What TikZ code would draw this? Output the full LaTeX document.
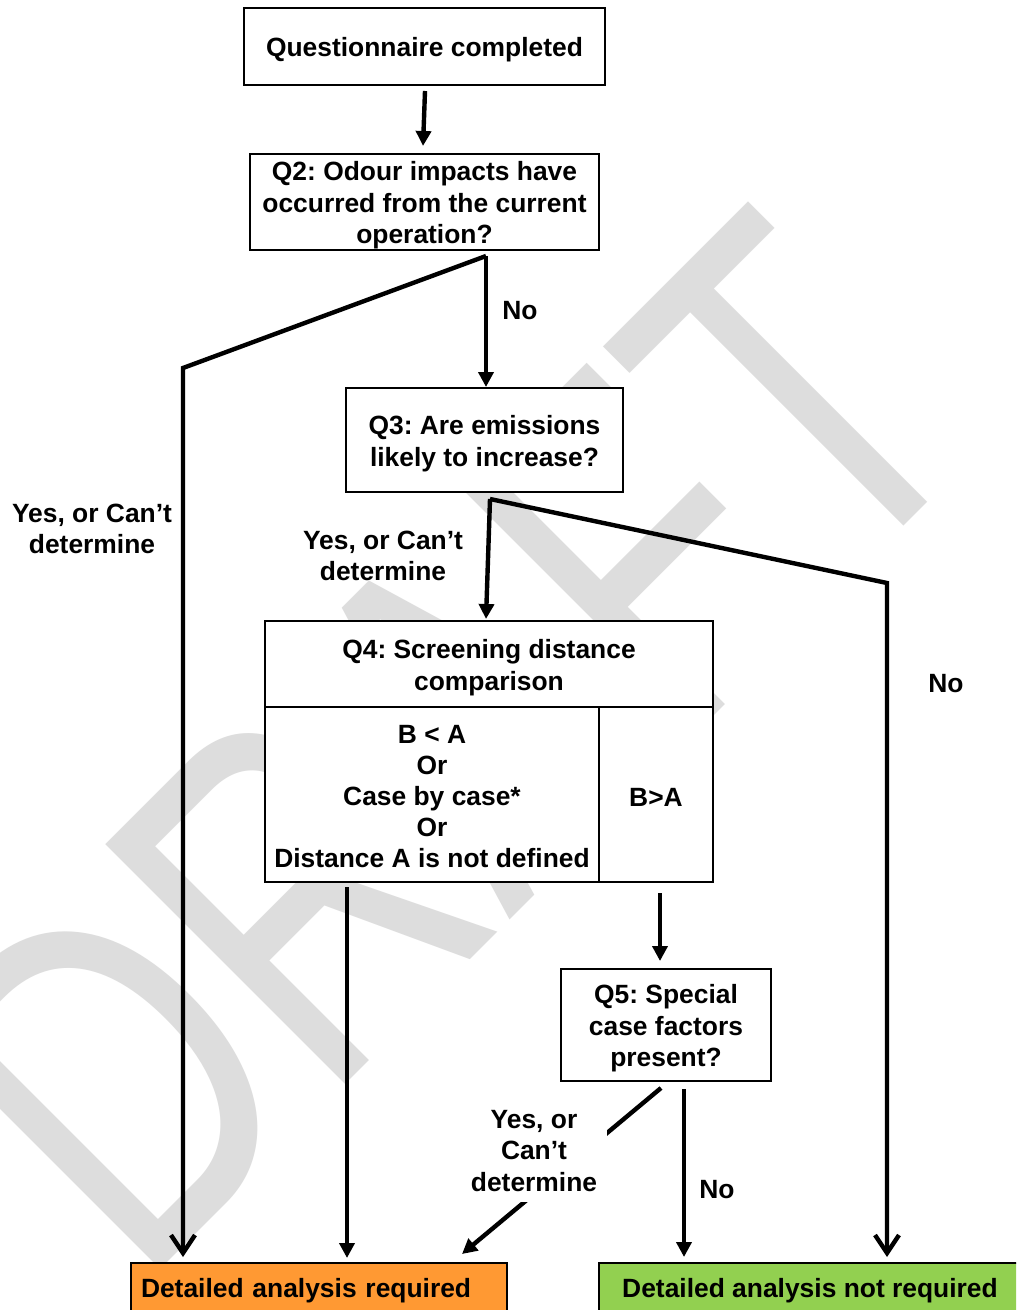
\documentclass[tikz,border=0pt]{standalone}
\usepackage{graphicx}
\usepackage{fontspec}
\setmainfont{Liberation Sans}
\newfontfamily\wmfont{Liberation Sans}
\frenchspacing
\usetikzlibrary{arrows.meta,calc}
\definecolor{wmgray}{RGB}{221,221,221}
\definecolor{orangebox}{RGB}{255,153,51}
\definecolor{greenbox}{RGB}{146,208,80}
\newcommand{\topstrut}[1]{\rule{0pt}{#1}}
\begin{document}
\begin{tikzpicture}[x=0.5pt,y=-0.5pt,
  txt/.style={font=\fontsize{13.2pt}{15.7pt}\selectfont\bfseries, align=center, inner sep=0pt},
  box/.style={txt, draw, line width=1pt, fill=white},
  conn/.style={line width=2.2pt, line join=miter},
  tri/.style={conn, -{Triangle[length=7.5pt,width=7.5pt]}},
  barb/.style={conn, -{Straight Barb[length=9pt,width=12pt]}},
]
\useasboundingbox (0,0) rectangle (1016,1310);
\fill[white] (0,0) rectangle (1016,1310);
\clip (0,0) rectangle (1016,1310);
% watermark
\node[anchor=base west, rotate=45, inner sep=0pt, text=wmgray,
      font=\wmfont\fontsize{246.5pt}{250pt}\selectfont] (wm) at (139,1291)
      {\scalebox{0.736}[1]{DRAFT}};
% boxes
\node[box, minimum width=180.5pt, minimum height=38.5pt] (q1) at (424.5,46.5) {\topstrut{13.1pt}Questionnaire completed};
\node[box, minimum width=174.5pt, minimum height=48pt] (q2) at (424.5,202) {\topstrut{13.1pt}Q2: Odour impacts have\\occurred from the current\\operation?};
\node[box, minimum width=138.5pt, minimum height=52pt] (q3) at (484.5,440) {\topstrut{13.1pt}Q3: Are emissions\\likely to increase?};
\node[box, minimum width=224pt, minimum height=43pt] (q4h) at (489,664) {\topstrut{13.1pt}Q4: Screening distance\\comparison};
\node[box, font=\fontsize{13.2pt}{15.4pt}\selectfont\bfseries, minimum width=167pt, minimum height=87.5pt] (q4l) at (432,794.5) {\topstrut{11.1pt}B < A\\Or\\Case by case*\\Or\\Distance A is not defined};
\node[box, minimum width=57pt, minimum height=87.5pt] (q4r) at (656,794.5) {\topstrut{11.6pt}B>A};
\node[box, minimum width=105pt, minimum height=56pt] (q5) at (666,1025) {\topstrut{13.1pt}Q5: Special\\case factors\\present?};
\node[box, fill=orangebox, anchor=north west, text width=178pt, align=left, inner xsep=5pt, minimum height=28pt] (req) at (130,1262) {Detailed analysis required};
\node[box, fill=greenbox, anchor=north west, minimum width=211pt, minimum height=28pt] (notreq) at (598,1262) {Detailed analysis not required};
% connectors
\coordinate (q2o) at ($(q2.south)+(61.5,5)$);
\coordinate (q2bend) at (183,368);
\draw[tri] ($(q1.south)+(0.5,5)$) -- ($(q2.north)+(-1.5,-7)$);
\draw[tri] (q2o) -- (q2o |- q3.north);
\draw[barb, shorten >=2.5pt] (q2o) -- (q2bend) -- (q2bend |- req.north);
\coordinate (q3o) at ($(q3.south)+(5.5,6)$);
\coordinate (q3bend) at (887,583);
\draw[tri] (q3o) -- ($(q4h.north)+(-3,-1)$);
\draw[barb, shorten >=2.5pt] (q3o) -- (q3bend) -- (q3bend |- notreq.north);
\coordinate (q4lo) at ($(q4l.south)+(-85,4)$);
\draw[tri, shorten >=2pt] (q4lo) -- (q4lo |- req.north);
\coordinate (q4ro) at ($(q4r.south)+(4,10)$);
\draw[tri, shorten >=3.5pt] (q4ro) -- (q4ro |- q5.north);
\coordinate (q5no) at ($(q5.south)+(18,7)$);
\draw[tri, shorten >=2.5pt] (q5no) -- (q5no |- notreq.north);
\draw[tri] ($(q5.south)+(-5,6)$) -- ($(req.north east)+(-46,-8)$);
% labels
\node[txt] (lno1) at (520,311) {No};
\node[txt] (lyes1) at (92,529) {Yes, or Can’t\\determine};
\node[txt] (lyes2) at (383,556) {Yes, or Can’t\\determine};
\node[txt] (lno2) at (946,684) {No};
\node[txt, fill=white, inner sep=5pt] (lyes3) at (534,1151) {Yes, or\\Can’t\\determine};
\node[txt] (lno3) at (717,1190) {No};
\end{tikzpicture}
\end{document}
